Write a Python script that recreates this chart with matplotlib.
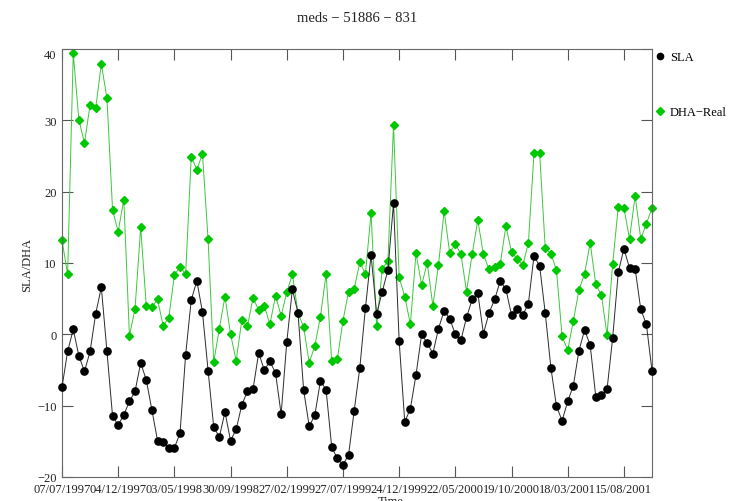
import numpy as np
import matplotlib
matplotlib.use("Agg")
import matplotlib.pyplot as plt
from matplotlib.lines import Line2D

title = "meds \u2212 51886 \u2212 831"
series_names = ["SLA", "DHA\u2212Real"]

# one tick every 10 samples (150 days)
tick_labels = ["07/07/1997", "04/12/1997", "03/05/1998", "30/09/1998",
               "27/02/1999", "27/07/1999", "24/12/1999", "22/05/2000",
               "19/10/2000", "18/03/2001", "15/08/2001"]

sla = [-7.4, -2.4, 0.7, -3.0, -5.2, -2.4, 2.9, 6.6, -2.4, -11.5,
       -12.7, -11.3, -9.4, -8.0, -4.0, -6.4, -10.6, -14.9, -15.1, -15.9,
       -15.9, -13.9, -2.9, 4.8, 7.5, 3.1, -5.1, -13.0, -14.4, -10.9,
       -14.9, -13.3, -9.9, -8.0, -7.7, -2.6, -5.0, -3.8, -5.4, -11.2,
       -1.1, 6.3, 3.0, -7.8, -12.9, -11.3, -6.5, -7.8, -15.8, -17.4,
       -18.3, -16.9, -10.7, -4.7, 3.7, 11.1, 2.9, 6.0, 9.0, 18.4,
       -0.9, -12.3, -10.4, -5.7, 0.0, -1.2, -2.7, 0.8, 3.3, 2.2,
       0.0, -0.8, 2.4, 4.9, 5.8, 0.1, 3.0, 4.9, 7.5, 6.3,
       2.7, 3.5, 2.7, 4.3, 11.0, 9.6, 3.0, -4.65, -10.1, -12.1,
       -9.4, -7.2, -2.3, 0.6, -1.5, -8.8, -8.5, -7.7, -0.5, 8.7,
       12.0, 9.3, 9.2, 3.5, 1.4, -5.1]

dha = [13.2, 8.4, 39.4, 30.1, 26.8, 32.2, 31.7, 37.9, 33.1, 17.4,
       14.4, 18.9, -0.2, 3.6, 15.0, 4.0, 3.8, 4.9, 1.2, 2.3,
       8.3, 9.5, 8.4, 24.9, 23.1, 25.3, 13.3, -3.9, 0.8, 5.3,
       0.0, -3.7, 2.0, 1.1, 5.1, 3.4, 4.0, 1.4, 5.4, 2.6,
       5.9, 8.4, 3.0, 1.0, -4.0, -1.6, 2.5, 8.5, -3.8, -3.5,
       1.9, 6.0, 6.4, 10.1, 8.5, 17.0, 1.1, 9.2, 10.3, 29.3,
       8.0, 5.3, 1.4, 11.4, 6.9, 10.0, 4.0, 9.7, 17.3, 11.4,
       12.7, 11.2, 6.0, 11.3, 16.0, 11.2, 9.1, 9.5, 9.9, 15.2,
       11.5, 10.6, 9.7, 12.8, 25.4, 25.4, 12.1, 11.3, 9.0, -0.3,
       -2.2, 1.9, 6.2, 8.5, 12.8, 7.0, 5.5, -0.1, 9.9, 17.9,
       17.7, 13.4, 19.4, 13.4, 15.5, 17.7]

plt.rcParams['font.family'] = ['Liberation Serif', 'DejaVu Serif']

x = np.arange(len(sla))

fig = plt.figure(figsize=(7.36, 5.02), dpi=100)
ax = fig.add_axes([62 / 736, 1 - 478 / 502, 590 / 736, 428 / 502])

ax.plot(x, dha, color='#3cc83c', lw=0.7, marker='D', ms=3.6,
        mfc='#00c800', mec='#00c800', clip_on=False, zorder=2)
ax.plot(x, sla, color='#2a2a2a', lw=0.7, marker='o', ms=5.2,
        mfc='black', mec='black', clip_on=False, zorder=3)

ax.set_xlim(0, len(sla) - 1)
ax.set_ylim(-20, 40)
ax.set_xticks(x[::10])
ax.set_xticklabels(tick_labels)
ax.set_yticks(np.arange(-20, 41, 10))
ax.set_yticklabels([str(v).replace('-', '\u2212') for v in range(-20, 41, 10)])
ax.get_yticklabels()[-1].set_va('top')

ax.tick_params(direction='in', length=8, width=0.8, top=True, right=True,
               labelsize=9, colors='#555555', labelcolor='#222222', pad=4)
for s in ax.spines.values():
    s.set_color('#666666')
    s.set_linewidth(0.8)

fig.text(357 / 736, 1 - 18 / 502, title, ha='center', va='center',
         fontsize=10.5, color='#222222')
fig.text(27 / 736, 1 - 265 / 502, "SLA/DHA", rotation=90, ha='center',
         va='center', fontsize=9, color='#222222')
fig.text(391 / 736, 1 - 496 / 502, "Time", ha='center', va='top',
         fontsize=9, color='#222222')

handles = [Line2D([], [], ls='none', marker='o', ms=4.5, color='black'),
           Line2D([], [], ls='none', marker='D', ms=3.6, color='#00c800')]
ax.legend(handles, series_names, loc='upper left', bbox_to_anchor=(1.004, 1.0),
          frameon=False, borderaxespad=0, borderpad=0.15, handlelength=0.6,
          handletextpad=0.5, labelspacing=3.45, fontsize=9)

fig.savefig("out.png", dpi=100, facecolor='white')
